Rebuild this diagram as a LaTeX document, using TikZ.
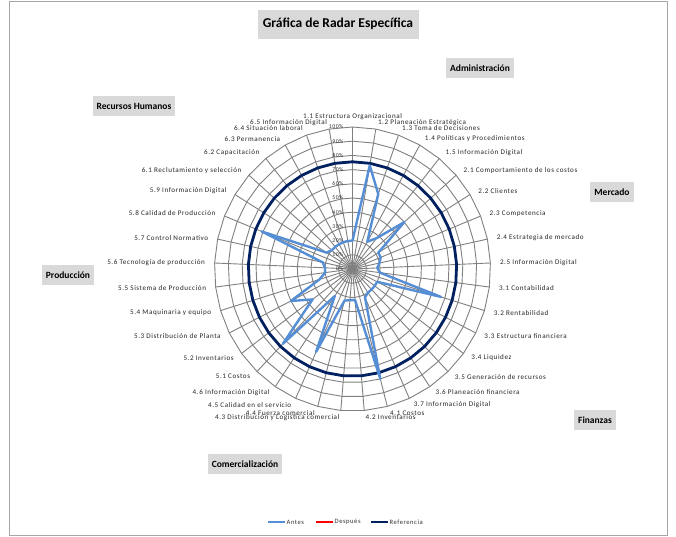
\documentclass[tikz,border=0pt]{standalone}
\usepackage{fontspec}
\setmainfont{Carlito}
\newfontfamily\labfont[LetterSpace=8]{Carlito}
\definecolor{antes}{RGB}{85,142,213}
\definecolor{refc}{RGB}{0,32,96}
\definecolor{despc}{RGB}{255,0,0}
\definecolor{boxg}{RGB}{217,217,217}
\definecolor{gridc}{RGB}{128,128,128}
\begin{document}
\begin{tikzpicture}[x=1pt,y=-1pt,
  gridline/.style={gridc,line width=0.9pt},
  antesline/.style={antes,line width=2.4pt,line join=round},
  refline/.style={refc,line width=2.8pt},
  despline/.style={despc,line width=2.4pt},
  lab/.style={inner sep=0.5pt,font=\labfont\fontsize{7.1}{8}\selectfont,text=black!85},
  tick/.style={inner sep=0.5pt,font=\labfont\fontsize{5.8}{6.5}\selectfont,text=black!80},
  catbox/.style={fill=boxg,inner sep=4pt,minimum height=20pt,font=\fontsize{9.5}{11}\selectfont\bfseries},
  titlebox/.style={fill=boxg,minimum width=161pt,minimum height=29pt,font=\fontsize{13.5}{15}\selectfont\bfseries},
  legtext/.style={inner sep=0.5pt,anchor=west,font=\labfont\fontsize{6.6}{7}\selectfont,text=black!80}]
\useasboundingbox (0,0) rectangle (676,536);
\fill[white] (0,0) rectangle (676,536);
\draw[black!35,line width=0.6pt] (9,1) rectangle (667,535);
\def\cx{352.5}
\def\cy{269}
\def\rx{138}
\def\ry{142}
% rings
\foreach \i in {1,...,10}{
  \draw[gridline] plot[samples=38,domain=0:360,variable=\t] ({\cx+\rx*\i/10*sin(\t)},{\cy-\ry*\i/10*cos(\t)}) -- cycle;
}
% spokes
\coordinate (c) at (\cx,\cy);
\foreach \k in {0,...,36}{
  \coordinate (s\k) at ({\cx+\rx*sin(\k*360/37)},{\cy-\ry*cos(\k*360/37)});
  \draw[gridline] (c) -- (s\k);
}
% tick labels
\foreach \i in {0,...,10}{
  \pgfmathtruncatemacro\pc{\i*10}
  \node[tick,anchor=east] (t\i) at (344,{\cy-\ry*\i/10}) {\pc\%};
}
% reference
\draw[refline] plot[samples=38,domain=0:360,variable=\t] ({\cx+\rx*0.755*sin(\t)},{\cy-\ry*0.755*cos(\t)}) -- cycle;
% antes
\foreach \v [count=\k from 0] in {0.2,0.74,0.56,0.22,0.28,0.5,0.22,0.22,0.2,0.18,0.2,0.67,0.2,0.2,0.2,0.2,0.22,0.8,0.22,0.22,0.23,0.64,0.23,0.73,0.36,0.5,0.25,0.2,0.2,0.22,0.71,0.22,0.2,0.2,0.2,0.2,0.2}{
  \coordinate (a\k) at ({\cx+\rx*\v*sin(\k*360/37)},{\cy-\ry*\v*cos(\k*360/37)});
}
\draw[antesline] (a0) \foreach \k in {1,...,36}{ -- (a\k)} -- cycle;
% axis labels
\foreach \k/\t in {0/{1.1 Estructura Organizacional},1/{1.2 Planeación Estratégica},2/{1.3 Toma de Decisiones},3/{1.4 Políticas y Procedimientos},4/{1.5 Información Digital},5/{2.1 Comportamiento de los costos},6/{2.2 Clientes},7/{2.3 Competencia},8/{2.4 Estrategia de mercado},9/{2.5 Información Digital},10/{3.1 Contabilidad},11/{3.2 Rentabilidad},12/{3.3 Estructura financiera},13/{3.4 Liquidez},14/{3.5 Generación de recursos},15/{3.6 Planeación financiera},16/{3.7 Información Digital},17/{4.1 Costos},18/{4.2 Inventarios},19/{4.3 Distribución y Logística comercial},20/{4.4 Fuerza comercial},21/{4.5 Calidad en el servicio},22/{4.6 Información Digital},23/{5.1 Costos},24/{5.2 Inventarios},25/{5.3 Distribución de Planta},26/{5.4 Maquinaria y equipo},27/{5.5 Sistema de Producción},28/{5.6 Tecnología de producción},29/{5.7 Control Normativo},30/{5.8 Calidad de Producción},31/{5.9 Información Digital},32/{6.1 Reclutamiento y selección},33/{6.2 Capacitación},34/{6.3 Permanencia},35/{6.4 Situación laboral},36/{6.5 Información Digital}}{
  \ifnum\k=0 \def\anc{south}\else\ifnum\k<19 \def\anc{west}\else\def\anc{east}\fi\fi
  \node[lab,anchor=\anc] (l\k) at ({\cx+147*sin(\k*360/37)},{\cy-149*cos(\k*360/37)}) {\t};
}
% title and categories
\node[titlebox] (title) at (338,24) {Gráfica de Radar Específica};
\node[catbox] (adm) at (480,68) {Administración};
\node[catbox] (rh) at (134,106) {Recursos Humanos};
\node[catbox] (mer) at (612,192) {Mercado};
\node[catbox] (pro) at (68,275) {Producción};
\node[catbox] (fin) at (595,420) {Finanzas};
\node[catbox] (com) at (245,464) {Comercialización};
% legend
\coordinate (g1a) at (268,522); \coordinate (g1b) at (285,522);
\coordinate (g2a) at (316,522); \coordinate (g2b) at (333,522);
\coordinate (g3a) at (371,522); \coordinate (g3b) at (388,522);
\draw[antesline] (g1a) -- (g1b);
\draw[despline] (g2a) -- (g2b);
\draw[refline] (g3a) -- (g3b);
\node[legtext] (lg1) at (286,522) {Antes};
\node[legtext] (lg2) at (334,522) {Después};
\node[legtext] (lg3) at (389,522) {Referencia};
\end{tikzpicture}
\end{document}
